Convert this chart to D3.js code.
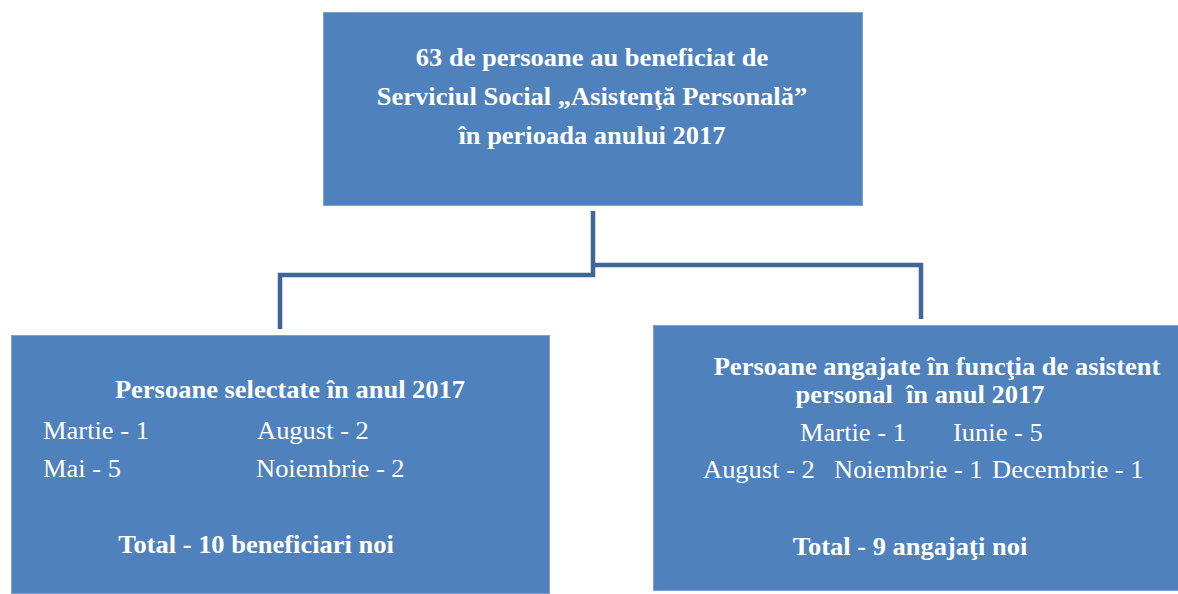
<!DOCTYPE html>
<html>
<head>
<meta charset="utf-8">
<script src="https://cdn.jsdelivr.net/npm/d3@7"></script>
<style>
  html, body { margin: 0; padding: 0; background: #fff; }
  svg text { font-family: "Liberation Serif", "Times New Roman", serif; fill: #fff; white-space: pre; }
</style>
</head>
<body>
<svg width="1178" height="594"></svg>
<script>
// text of the three boxes
const topLines = ["63 de persoane au beneficiat de", "Serviciul Social „Asistenţă Personală”", "în perioada anului 2017"];

const leftTitle = ["Persoane selectate în anul 2017"];
const leftMonths = ["Martie", "Mai", "August", "Noiembrie"];
const leftCounts = [1, 5, 2, 2];
const leftTotal = "Total - 10 beneficiari noi";

const rightTitle = ["Persoane angajate în funcţia de asistent", "personal  în anul 2017"];
const rightMonths = ["Martie", "Iunie", "August", "Noiembrie", "Decembrie"];
const rightCounts = [1, 5, 2, 1, 1];
const rightTotal = "Total - 9 angajaţi noi";

const svg = d3.select('svg');
const fill = '#4f81bd';
const edge = '#7ea2cf';
const lineColor = '#3e6699';
const stretch = 1.06; // the picture is a bit wider than plain Times

//boxes
const boxes = [
	{ x: 323, y: 12, w: 539, h: 193 },
	{ x: 11, y: 335, w: 538, h: 258 },
	{ x: 653, y: 325, w: 526, h: 265 }
];

svg.selectAll('rect.box').data(boxes)
	.enter().append('rect')
		.attr('class', 'box')
		.attr('x', d => d.x + 0.5)
		.attr('y', d => d.y + 0.5)
		.attr('width', d => d.w)
		.attr('height', d => d.h)
		.attr('fill', fill)
		.attr('stroke', edge)
		.attr('stroke-width', 1);

//connectors
const connectors = [
	[[593, 211], [593, 277]],
	[[595, 275], [280, 275], [280, 329]],
	[[591, 265], [921, 265], [921, 319]]
];

const line = d3.line();
svg.selectAll('path.link').data(connectors)
	.enter().append('path')
		.attr('class', 'link')
		.attr('d', line)
		.attr('fill', 'none')
		.attr('stroke', lineColor)
		.attr('stroke-width', 4.5)
		.attr('stroke-linejoin', 'miter');

// helper: text placed with translate + slight horizontal stretch
function label(x, y, str, opts) {
	svg.append('text')
		.attr('transform', `translate(${x},${y}) scale(${stretch},1)`)
		.attr('text-anchor', opts.anchor || 'start')
		.attr('font-size', opts.size)
		.attr('font-weight', opts.bold ? 'bold' : 'normal')
		.text(str);
}

// top box
const topY = d3.scaleLinear().domain([0, 1]).range([66, 105]);
topLines.forEach((t, i) => label(592, topY(i), t, { anchor: 'middle', size: 25, bold: true }));

// left box
label(290, 398, leftTitle[0], { anchor: 'middle', size: 25, bold: true });
const leftPos = [[43, 439], [43, 477], [257, 439], [256, 477]];
leftMonths.forEach((m, i) => label(leftPos[i][0], leftPos[i][1], `${m} - ${leftCounts[i]}`, { size: 25 }));
label(256, 553, leftTotal, { anchor: 'middle', size: 25, bold: true });

// right box
label(937, 375, rightTitle[0], { anchor: 'middle', size: 25, bold: true });
label(920, 403, rightTitle[1], { anchor: 'middle', size: 25, bold: true });
const rightPos = [[800, 441], [953, 441], [703, 478], [834, 478], [992, 478]];
rightMonths.forEach((m, i) => label(rightPos[i][0], rightPos[i][1], `${m} - ${rightCounts[i]}`, { size: 25 }));
label(910, 555, rightTotal, { anchor: 'middle', size: 25, bold: true });
</script>
</body>
</html>
